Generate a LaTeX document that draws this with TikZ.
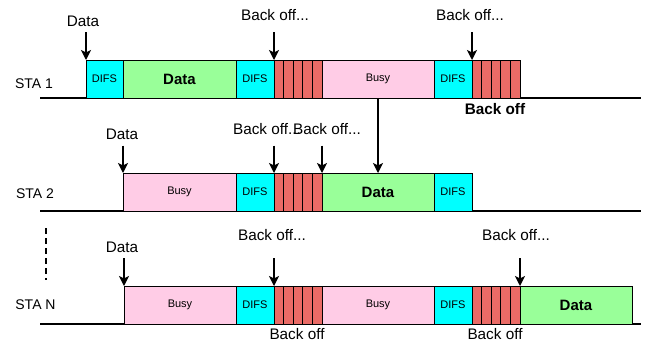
\documentclass[tikz,border=0pt]{standalone}
\usepackage{fontspec}
\setmainfont{Liberation Sans}
\usetikzlibrary{arrows.meta}

\definecolor{difscol}{HTML}{00FFFF}
\definecolor{datacol}{HTML}{99FF99}
\definecolor{busycol}{HTML}{FFCCE6}
\definecolor{slotcol}{HTML}{EA6B66}

\tikzset{
  seg/.style={draw=black, line width=0.8pt, inner sep=0pt, outer sep=0pt,
              anchor=north west, minimum height=38pt},
  difsbox/.style={seg, fill=difscol, font=\fontsize{11}{13}\selectfont},
  databox/.style={seg, fill=datacol, font=\fontsize{15}{18}\selectfont\bfseries},
  busybox/.style={seg, fill=busycol, font=\fontsize{11}{13}\selectfont},
  slotbox/.style={seg, fill=slotcol, minimum width=9.6pt},
  timeline/.style={line width=1.6pt},
  lbl/.style={anchor=base, inner sep=0pt, font=\fontsize{15.3}{18}\selectfont},
  stalbl/.style={anchor=base, inner sep=0pt, font=\fontsize{14}{17}\selectfont},
  boldlbl/.style={lbl, font=\fontsize{15.3}{18}\selectfont\bfseries},
  arr/.style={line width=1.4pt, -{Stealth[length=10pt,width=10pt,inset=2.5pt]}},
}

% one frame segment of the time line: name, x from, x to, top, style, text
\newcommand{\frameseg}[6]{%
  \node[#5, minimum width={(#3-#2)*1pt}] (#1) at (#2,#4) {#6};}
% five back-off slots starting at x, top y
\newcommand{\slots}[3]{%
  \foreach \i in {0,...,4}{\node[slotbox] (#1\i) at ({#2+\i*9.6},#3) {};}}

\begin{document}
\begin{tikzpicture}[x=1pt,y=-1pt]
\useasboundingbox (0,0) rectangle (651,346);

% ---------- STA 1 ----------
\coordinate (l1a) at (40,98);
\coordinate (l1b) at (641,98);
\draw[timeline] (l1a) -- (l1b);
\node[stalbl] (sta1) at (34,88.3) {STA 1};
\frameseg{r1difsA}{86}{123}{60}{difsbox}{DIFS}
\frameseg{r1data}{123}{236}{60}{databox}{Data}
\frameseg{r1difsB}{236}{274}{60}{difsbox}{DIFS}
\slots{r1s}{274}{60}
\frameseg{r1busy}{322}{434}{60}{busybox}{Busy}
\frameseg{r1difsC}{434}{472}{60}{difsbox}{DIFS}
\slots{r1t}{472}{60}

\node[lbl] (r1lblData) at (83,26.7) {Data};
\node[lbl] (r1lblB1) at (275,20) {Back off...};
\node[lbl] (r1lblB2) at (470,20) {Back off...};
\node[boldlbl] (r1bo) at (495,114.3) {Back off};
\coordinate (r1aData) at (86,32);
\coordinate (r1aB1) at (274,32);
\coordinate (r1aB2) at (472,32);
\draw[arr] (r1aData) -- (r1difsA.north west);
\draw[arr] (r1aB1) -- (r1s0.north west);
\draw[arr] (r1aB2) -- (r1t0.north west);

% ---------- STA 2 ----------
\coordinate (l2a) at (40,211);
\coordinate (l2b) at (641,211);
\draw[timeline] (l2a) -- (l2b);
\node[stalbl] (sta2) at (35,198.3) {STA 2};
\frameseg{r2busy}{123}{236}{173}{busybox}{Busy}
\frameseg{r2difsA}{236}{274}{173}{difsbox}{DIFS}
\slots{r2s}{274}{173}
\frameseg{r2data}{322}{434}{173}{databox}{Data}
\frameseg{r2difsB}{434}{472}{173}{difsbox}{DIFS}

\node[lbl] (r2lblData) at (122,139.3) {Data};
\node[lbl] (r2lblB1) at (267,134) {Back off...};
\node[lbl] (r2lblB2) at (327,134) {Back off...};
\coordinate (r2aData) at (123,145.5);
\coordinate (r2aB1) at (274,145.5);
\coordinate (r2aB2) at (322,145.5);
\draw[arr] (r2aData) -- (r2busy.north west);
\draw[arr] (r2aB1) -- (r2s0.north west);
\draw[arr] (r2aB2) -- (r2data.north west);

% STA 1 busy period hands the medium to STA 2's data frame
\draw[arr] (r1busy.south) -- (r2data.north);

% ---------- STA N ----------
\coordinate (dotsA) at (46,228);
\coordinate (dotsB) at (46,280);
\draw[line width=1.3pt, dash pattern=on 6pt off 4pt] (dotsA) -- (dotsB);

\coordinate (lNa) at (40,324);
\coordinate (lNb) at (641,324);
\draw[timeline] (lNa) -- (lNb);
\node[stalbl] (staN) at (35.5,309.3) {STA N};
\frameseg{rNbusyA}{124}{236}{286}{busybox}{Busy}
\frameseg{rNdifsA}{236}{274}{286}{difsbox}{DIFS}
\slots{rNs}{274}{286}
\frameseg{rNbusyB}{322}{434}{286}{busybox}{Busy}
\frameseg{rNdifsB}{434}{472}{286}{difsbox}{DIFS}
\slots{rNt}{472}{286}
\frameseg{rNdata}{520}{632}{286}{databox}{Data}

\node[lbl] (rNlblData) at (122,252.7) {Data};
\node[lbl] (rNlblB1) at (272,240.7) {Back off...};
\node[lbl] (rNlblB2) at (516,240.7) {Back off...};
\node[lbl] (rNbo1) at (297,339) {Back off};
\node[lbl] (rNbo2) at (495,339) {Back off};
\coordinate (rNaData) at (124,258);
\coordinate (rNaB1) at (274,258);
\coordinate (rNaB2) at (520,258);
\draw[arr] (rNaData) -- (rNbusyA.north west);
\draw[arr] (rNaB1) -- (rNs0.north west);
\draw[arr] (rNaB2) -- (rNdata.north west);
\end{tikzpicture}
\end{document}
